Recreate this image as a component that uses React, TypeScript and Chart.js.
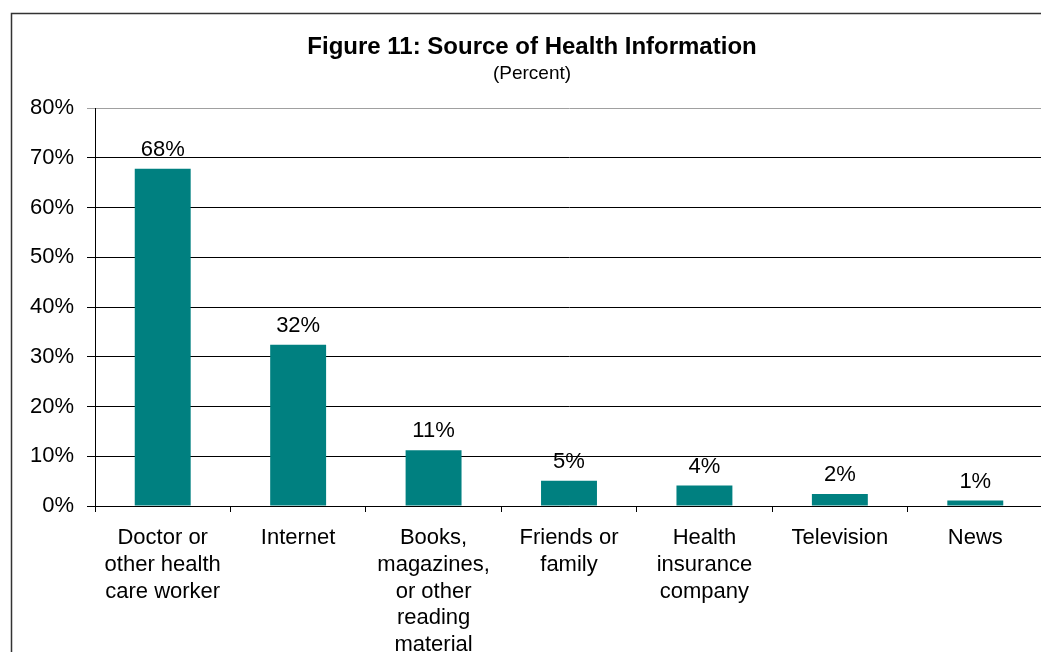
import React, { useEffect, useRef } from "react";
import { Chart, registerables } from "chart.js";

Chart.register(...registerables);

const TITLE = "Figure 11: Source of Health Information";
const SUBTITLE = "(Percent)";
const CATEGORIES: string[][] = [
  ["Doctor or", "other health", "care worker"],
  ["Internet"],
  ["Books,", "magazines,", "or other", "reading", "material"],
  ["Friends or", "family"],
  ["Health", "insurance", "company"],
  ["Television"],
  ["News"],
];
const VALUES = [67.8, 32.4, 11.2, 5.1, 4.1, 2.4, 1.1];
const Y_MIN = 0;
const Y_MAX = 80;
const Y_STEP = 10;

const FONT = "'Liberation Sans', Arial, sans-serif";

export default function App() {
  const ref = useRef<HTMLCanvasElement | null>(null);

  useEffect(() => {
    const canvas = ref.current;
    if (!canvas) return;

    const framePlugin = {
      id: "frame",
      beforeDraw(chart: any) {
        const ctx = chart.ctx;
        ctx.save();
        ctx.fillStyle = "#ffffff";
        ctx.fillRect(0, 0, chart.width, chart.height);
        ctx.strokeStyle = "#333333";
        ctx.lineWidth = 1.5;
        ctx.beginPath();
        ctx.moveTo(11.5, chart.height + 2);
        ctx.lineTo(11.5, 13.5);
        ctx.lineTo(chart.width + 2, 13.5);
        ctx.stroke();
        ctx.fillStyle = "#000000";
        ctx.textAlign = "center";
        ctx.textBaseline = "middle";
        ctx.font = `bold 24px ${FONT}`;
        ctx.fillText(TITLE, 532, 47);
        ctx.font = `19px ${FONT}`;
        ctx.fillText(SUBTITLE, 532, 74);
        ctx.restore();
      },
    };

    const labelPlugin = {
      id: "barLabels",
      afterDatasetsDraw(chart: any) {
        const ctx = chart.ctx;
        const meta = chart.getDatasetMeta(0);
        ctx.save();
        ctx.fillStyle = "#000000";
        ctx.textAlign = "center";
        ctx.textBaseline = "alphabetic";
        ctx.font = `22px ${FONT}`;
        meta.data.forEach((el: any, i: number) => {
          const v = chart.data.datasets[0].data[i] as number;
          ctx.fillText(`${Math.round(v)}%`, el.x, el.y - 13);
        });
        ctx.restore();
      },
    };

    const chart = new Chart(canvas, {
      type: "bar",
      data: {
        labels: CATEGORIES,
        datasets: [
          {
            data: VALUES,
            backgroundColor: "#008080",
            borderWidth: 0,
            barPercentage: 0.413,
            categoryPercentage: 1,
          },
        ],
      },
      options: {
        responsive: false,
        animation: false,
        devicePixelRatio: 1,
        layout: { padding: { top: 108, right: 7, left: 0, bottom: 0 } },
        plugins: {
          legend: { display: false },
          title: { display: false },
          tooltip: { enabled: false },
        },
        scales: {
          x: {
            offset: true,
            grid: {
              display: true,
              offset: true,
              drawOnChartArea: false,
              drawTicks: true,
              tickLength: 6,
              color: "#000000",
            },
            border: { display: true, color: "#000000", width: 1 },
            ticks: {
              color: "#000000",
              font: { family: FONT, size: 22, lineHeight: 1.21 },
              padding: 13,
              maxRotation: 0,
              minRotation: 0,
              autoSkip: false,
            },
            afterFit(scale: any) {
              scale.height = 146;
            },
          },
          y: {
            min: Y_MIN,
            max: Y_MAX,
            grid: {
              color: (c: any) =>
                c.tick && c.tick.value === Y_MAX ? "#a0a0a0" : "#000000",
              tickLength: 8,
            },
            border: { display: true, color: "#000000", width: 1 },
            ticks: {
              stepSize: Y_STEP,
              color: "#000000",
              padding: 13,
              font: { family: FONT, size: 22 },
              callback: (v: any) => `${v}%`,
            },
            afterFit(scale: any) {
              scale.width = 95;
            },
          },
        },
      },
      plugins: [framePlugin, labelPlugin],
    });

    return () => chart.destroy();
  }, []);

  return (
    <div
      style={{
        position: "fixed",
        left: 0,
        top: 0,
        width: 1041,
        height: 652,
        overflow: "hidden",
        background: "#ffffff",
      }}
    >
      <canvas
        ref={ref}
        width={1050}
        height={652}
        style={{ display: "block", width: 1050, height: 652 }}
      />
    </div>
  );
}
